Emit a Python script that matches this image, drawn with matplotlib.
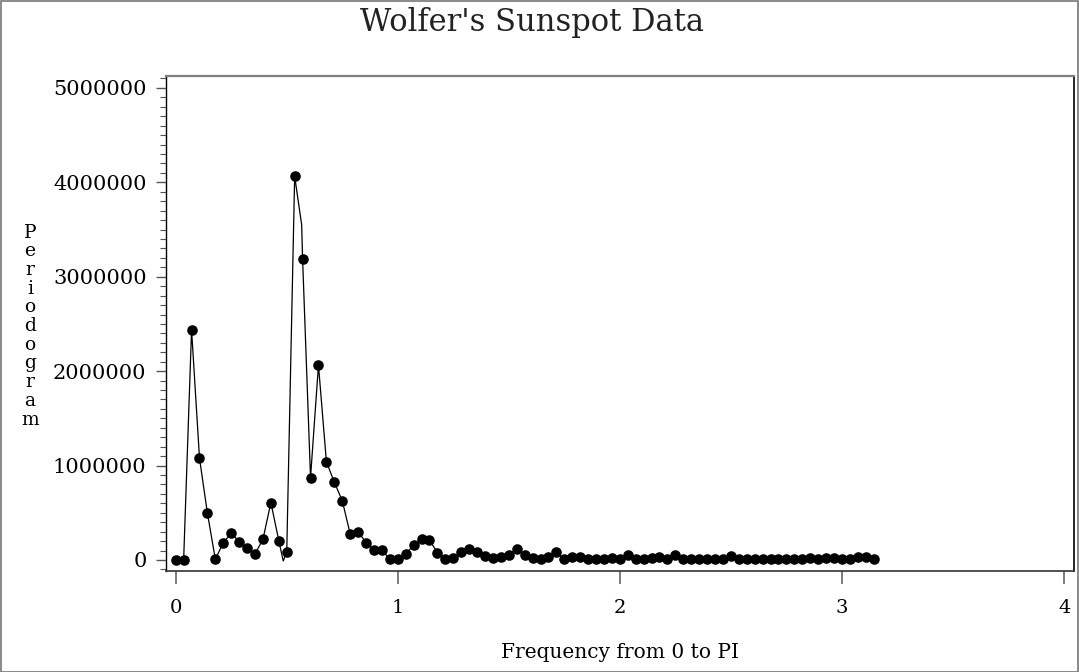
import numpy as np
import matplotlib
matplotlib.use("Agg")
import matplotlib.pyplot as plt
from matplotlib.patches import Rectangle
from matplotlib.ticker import MultipleLocator

# ---- data ----
n_obs = 176                      # series length -> Fourier frequencies 2*pi*k/n
k_index = np.arange(0, 89)       # k = 0 .. 88  (0 .. PI)
periodogram = [
    0, 0, 2438000, 1078000, 495000, 7000, 184000, 283000, 194000, 131000,
    64000, 219000, 608000, 205000, 81000, 4064000, 3187000, 873000, 2064000, 1042000,
    823000, 629000, 276000, 300000, 184000, 106000, 106000, 7000, 7000, 60000,
    159000, 219000, 210000, 78000, 7000, 25000, 81000, 113000, 88000, 42000,
    18000, 28000, 53000, 117000, 53000, 18000, 7000, 35000, 81000, 7000,
    28000, 35000, 7000, 7000, 12000, 22000, 7000, 50000, 7000, 12000,
    22000, 30000, 10000, 55000, 12000, 7000, 10000, 7000, 7000, 10000,
    40000, 10000, 7000, 7000, 10000, 7000, 10000, 7000, 12000, 7000,
    20000, 7000, 18000, 18000, 15000, 7000, 30000, 32000, 7000,
]
# extra vertices of the joining line (the line strays from the markers here)
line_extra_freq = [0.484, 0.567]
line_extra_vals = [-10000, 3550000]

title = "Wolfer's Sunspot Data"
xlabel = "Frequency from 0 to PI"
ylabel = "Periodogram"
xticks = [0, 1, 2, 3, 4]
yticks = [0, 1000000, 2000000, 3000000, 4000000, 5000000]

freq = 2 * np.pi * k_index / n_obs
pg = np.array(periodogram, dtype=float)

# line path: data points plus the extra vertices, sorted by frequency
lx = np.concatenate([freq, line_extra_freq])
ly = np.concatenate([pg, line_extra_vals])
order = np.argsort(lx, kind="stable")
lx, ly = lx[order], ly[order]

# ---- figure ----
W, H = 1079, 672
fig = plt.figure(figsize=(W / 100, H / 100), dpi=100)
plt.rcParams["font.family"] = ["DejaVu Serif"]

ax = fig.add_axes([166 / W, 1 - 571 / H, (1074 - 166) / W, (571 - 75.5) / H])
ax.plot(lx, ly, color="black", lw=0.9, zorder=2)
ax.plot(freq, pg, linestyle="none", marker="o", markersize=6.6,
        color="black", zorder=3)

ax.set_xlim(-0.0437, 4.0437)
ax.set_ylim(-116600, 5131700)
ax.set_xticks(xticks)
ax.set_xticklabels([str(t) for t in xticks])
ax.set_yticks(yticks)
ax.set_yticklabels([str(t) for t in yticks])
ax.yaxis.set_minor_locator(MultipleLocator(100000))

ax.tick_params(axis="y", which="major", direction="out", length=7, width=1,
               color="#555555", labelsize=15, pad=7)
ax.tick_params(axis="y", which="minor", direction="out", length=4, width=0.8,
               color="#555555")
ax.tick_params(axis="x", which="major", direction="out", length=9, width=1.2,
               color="#666666", labelsize=14, pad=11)

for side, col, lw in [("left", "black", 1.0), ("right", "black", 1.2),
                      ("top", "#808080", 1.6), ("bottom", "#333333", 1.2)]:
    ax.spines[side].set_color(col)
    ax.spines[side].set_linewidth(lw)

fig.text(0.493, 1 - 23 / H, title, ha="center", va="center", fontsize=22,
         color="#222222")
fig.text(620 / W, 1 - 652 / H, xlabel, ha="center", va="center", fontsize=14.5)
fig.text(30 / W, 1 - 326 / H, "\n".join(ylabel), ha="center", va="center",
         fontsize=13.5, linespacing=1.05)

fig.patches.append(Rectangle((0.5 / W, 0.5 / H), 1 - 1.5 / W, 1 - 1.5 / H,
                             transform=fig.transFigure, fill=False,
                             edgecolor="#777777", lw=1.2))

fig.savefig("out.png", dpi=100, facecolor="white")
